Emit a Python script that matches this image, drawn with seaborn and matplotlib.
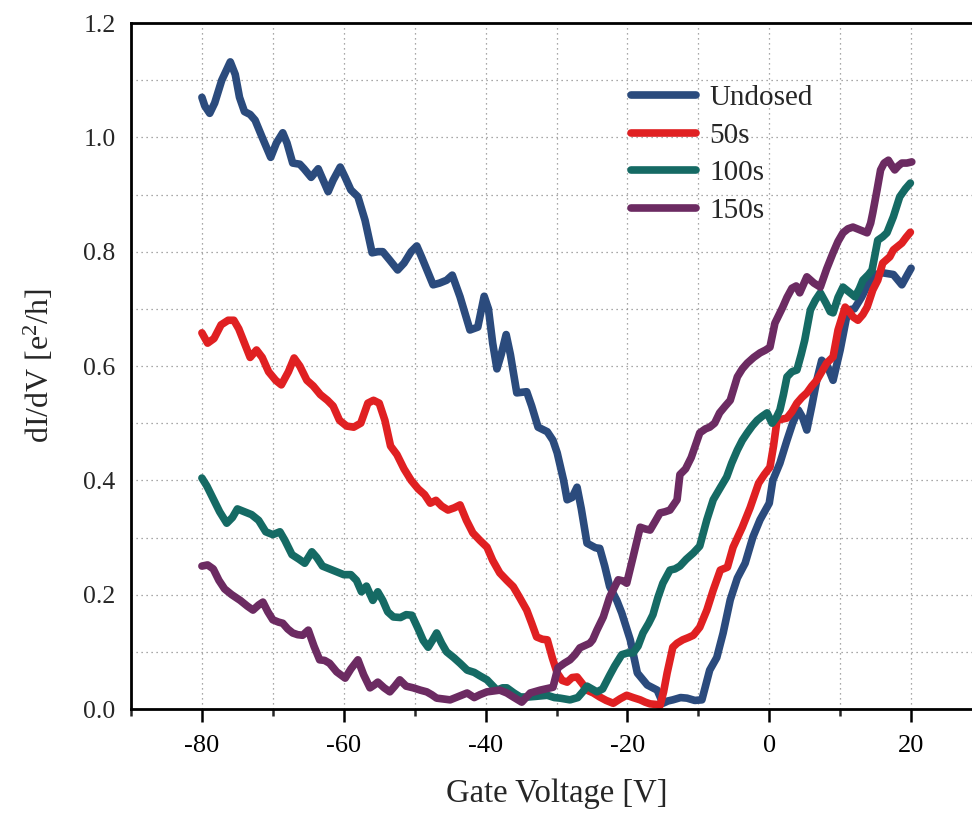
import numpy as np
import pandas as pd
import matplotlib
matplotlib.use("Agg")
import matplotlib.pyplot as plt
from matplotlib.ticker import MultipleLocator
import seaborn as sns

# Differential conductance vs. gate voltage for increasing dosing time
undosed_v = [-80, -79.6, -78.9, -78.2, -77.2, -76, -75.3, -74.7, -74, -73.2, -72.5, -71.5,
             -70.3, -69.5, -68.6, -68, -67.2, -66.2, -65.6, -64.6, -63.6, -62.9, -62.2,
             -61.5, -60.5, -59.8, -59, -58, -57, -56, -55.2, -54.5, -53.5, -52.4, -51.5,
             -50.5, -49.7, -49, -48, -47.4, -46.5, -45.5, -44.7, -43.6, -42.2, -41.1,
             -40.2, -39.6, -39, -38.4, -37.8, -37.1, -36.5, -35.6, -34.2, -33.5, -32.6,
             -31.3, -30.5, -29.9, -29, -28.5, -27.8, -27.1, -26.5, -25.7, -24.5, -23.9,
             -23.2, -22.5, -21.5, -20.8, -19.6, -18.6, -17.2, -15.8, -15, -14.3, -13.6,
             -12.5, -11.6, -10.5, -9.5, -8.4, -7.4, -6.5, -5.5, -4.5, -3.4, -2.3, -1.3,
             0, 0.5, 1.5, 2.5, 3.3, 4.1, 4.7, 5.3, 6, 6.7, 7.4, 8.2, 9, 10, 11.1, 12, 13,
             14.2, 15, 16, 17.5, 18.7, 19.5, 20]
undosed_g = [1.07, 1.055, 1.042, 1.06, 1.10, 1.132, 1.11, 1.07, 1.045, 1.04, 1.03, 1.0,
             0.965, 0.99, 1.008, 0.99, 0.955, 0.953, 0.945, 0.93, 0.945, 0.925, 0.905,
             0.925, 0.948, 0.93, 0.908, 0.896, 0.855, 0.798, 0.80, 0.80, 0.785, 0.768, 0.78,
             0.80, 0.81, 0.79, 0.76, 0.742, 0.745, 0.75, 0.759, 0.721, 0.663, 0.668,
             0.722, 0.70, 0.64, 0.595, 0.62, 0.655, 0.62, 0.553, 0.555, 0.53, 0.493,
             0.485, 0.47, 0.448, 0.40, 0.366, 0.37, 0.388, 0.35, 0.29, 0.282, 0.281,
             0.25, 0.214, 0.19, 0.168, 0.121, 0.063, 0.042, 0.033, 0.010, 0.014, 0.016,
             0.02, 0.019, 0.015, 0.016, 0.068, 0.09, 0.133, 0.191, 0.229, 0.255, 0.301, 0.331,
             0.36, 0.40, 0.43, 0.47, 0.50, 0.523, 0.51, 0.488, 0.53, 0.575, 0.61, 0.60, 0.575,
             0.628, 0.698, 0.70, 0.72, 0.75, 0.76, 0.763, 0.76, 0.742, 0.76, 0.771]

dose50_v = [-80, -79.2, -78.3, -77.3, -76.3, -75.5, -74.8, -74, -73.2, -72.3, -71.5, -70.6,
            -69.6, -68.8, -67.8, -67, -66.2, -65.2, -64.3, -63.3, -62.3, -61.5, -60.6,
            -59.6, -58.6, -57.6, -56.6, -55.8, -55, -54.2, -53.4, -52.5, -51.5, -50.5,
            -49.5, -48.6, -47.8, -47, -46.2, -45.3, -44.4, -43.6, -42.7, -41.8, -40.8,
            -39.8, -39, -38, -37, -36.1, -35.2, -34.2, -33.5, -32.8, -32, -31.3, -30.6,
            -29.9, -29.2, -28.5, -27.8, -27.1, -26.4, -25.7, -24.8, -23.9, -23, -22, -21,
            -20.1, -19.2, -18.2, -17.5, -16.8, -16, -15.4, -14.9, -14.4, -13.6, -13, -12.2,
            -11.4, -10.7, -9.8, -8.8, -7.9, -6.9, -5.9, -5.1, -3.8, -2.7, -1.5, -0.7, 0.1,
            0.6, 1.1, 1.8, 2.5, 3.2, 3.9, 4.6, 5.3, 6, 6.7, 7.4, 8.1, 9, 9.7, 10.7, 11.3,
            11.8, 12.5, 13.2, 13.8, 14.6, 15.3, 16, 17, 17.5, 18.2, 18.7, 19.3, 19.9]
dose50_g = [0.658, 0.64, 0.648, 0.672, 0.68, 0.68, 0.665, 0.64, 0.615, 0.628, 0.615, 0.59,
            0.575, 0.567, 0.59, 0.614, 0.60, 0.575, 0.565, 0.55, 0.54, 0.53, 0.505,
            0.495, 0.493, 0.50, 0.535, 0.54, 0.535, 0.505, 0.46, 0.445, 0.42, 0.40,
            0.385, 0.375, 0.36, 0.365, 0.355, 0.348, 0.352, 0.357, 0.33, 0.308, 0.295,
            0.283, 0.26, 0.238, 0.225, 0.214, 0.195, 0.173, 0.15, 0.126, 0.122, 0.121, 0.09,
            0.063, 0.05, 0.047, 0.055, 0.056, 0.045, 0.033, 0.028, 0.021, 0.015, 0.010, 0.018,
            0.024, 0.02, 0.016, 0.012, 0.009, 0.008, 0.006, 0.03, 0.063, 0.108, 0.115, 0.121,
            0.125, 0.129, 0.143, 0.173, 0.208, 0.243, 0.248, 0.283, 0.318, 0.352, 0.395, 0.41, 0.423,
            0.46, 0.505, 0.507, 0.509, 0.52, 0.535, 0.545, 0.553, 0.565, 0.575, 0.59, 0.605, 0.616, 0.663, 0.703, 0.695,
            0.686, 0.68, 0.69, 0.703, 0.733, 0.75, 0.78, 0.791, 0.803, 0.81, 0.815, 0.825, 0.834]

dose100_v = [-80, -79.3, -78.5, -77.5, -76.5, -75.7, -75, -74, -73, -72, -71, -70, -69,
             -68.3, -67.3, -66.3, -65.5, -64.5, -63.8, -63, -62, -61, -60, -59, -58.2,
             -57.5, -56.8, -55.9, -55.2, -54.5, -53.8, -53, -52, -51.2, -50.4, -49.5,
             -48.8, -48.1, -47.5, -46.9, -46.2, -45.5, -44.5, -43.6, -42.6, -41.6, -40.8,
             -39.8, -38.4, -37.6, -37, -36, -35.1, -34, -33, -31.3, -30.3, -29.5, -28.1,
             -27, -26.3, -25.7, -25, -24.3, -23.5, -22.5, -21.8, -20.8, -20, -19.2, -18.5,
             -17.8, -17, -16.4, -15.7, -15, -14, -13.3, -12.6, -11.7, -10.7, -9.8, -8.8,
             -7.9, -7, -6, -5.3, -4.5, -3.8, -3.1, -2.4, -1.7, -1, -0.3, 0.4, 1, 1.5, 2,
             2.5, 3.2, 3.9, 4.5, 5, 5.8, 6.5, 7.2, 8, 8.6, 9, 9.7, 10.4, 11.2, 12.1, 12.7,
             13.2, 14, 14.5, 15.3, 16, 16.6, 17.5, 18.4, 19.2, 19.9]
dose100_g = [0.404, 0.39, 0.37, 0.345, 0.325, 0.335, 0.35, 0.345, 0.34, 0.33, 0.31, 0.305, 0.31,
             0.295, 0.27, 0.262, 0.255, 0.275, 0.265, 0.25, 0.245, 0.24, 0.235, 0.235, 0.225,
             0.205, 0.215, 0.19, 0.205, 0.19, 0.17, 0.161, 0.16, 0.165, 0.164, 0.14,
             0.12, 0.108, 0.12, 0.133, 0.115, 0.10, 0.09, 0.08, 0.068, 0.064, 0.058,
             0.051, 0.033, 0.037, 0.037, 0.028, 0.021, 0.021, 0.022, 0.024, 0.02, 0.019, 0.016,
             0.02, 0.03, 0.04, 0.035, 0.03, 0.035, 0.059, 0.075, 0.095, 0.098, 0.098, 0.11,
             0.133, 0.15, 0.165, 0.195, 0.22, 0.243, 0.245, 0.25, 0.262, 0.273, 0.285, 0.331,
             0.366, 0.385, 0.406, 0.43, 0.453, 0.47, 0.483, 0.495, 0.505, 0.512, 0.518, 0.50, 0.51, 0.523, 0.55,
             0.581, 0.59, 0.593, 0.62, 0.645, 0.698, 0.715, 0.728, 0.71, 0.695, 0.693, 0.72, 0.738, 0.73, 0.721, 0.735,
             0.75, 0.76, 0.768, 0.82, 0.826, 0.833, 0.861, 0.896, 0.91, 0.92]

dose150_v = [-80, -79.2, -78.4, -77.6, -76.8, -75.8, -74.6, -73.6, -72.8, -72, -71.4, -70.7,
             -70, -69.2, -68.6, -67.9, -67.2, -66.5, -65.8, -65, -64.2, -63.4, -62.7, -62,
             -61, -59.8, -59, -58, -57.2, -56.3, -55.7, -55.2, -54.3, -53.5, -52.8, -52.1,
             -51.2, -50.2, -49.2, -48.3, -47.6, -46.9, -45, -43.8, -42.6, -41.6, -40.8,
             -39.8, -38, -37, -36.1, -34.9, -34.3, -33.7, -32.3, -30.5, -29.8, -28.9, -28.1,
             -27.4, -26.7, -25.3, -24.9, -24.3, -23.4, -22.5, -21.3, -20.6, -20.1, -19.2,
             -18.2, -17.5, -16.8, -16, -15.4, -14.7, -14, -13, -12.6, -11.8, -11, -9.8, -9,
             -8.4, -7.7, -7, -6.2, -5.5, -4.5, -3.8, -3.1, -2.2, -1.3, -0.5, 0.1, 0.8, 1.9,
             2.5, 3.2, 3.8, 4.3, 5.3, 6.3, 7.2, 8.1, 9, 9.7, 10.4, 11.1, 11.8, 12.8, 13.8,
             14.3, 14.6, 15.2, 15.7, 16.2, 16.8, 17.3, 17.7, 18.2, 18.7, 19.4, 20.1]
dose150_g = [0.25, 0.252, 0.245, 0.225, 0.21, 0.20, 0.19, 0.18, 0.173, 0.182, 0.187, 0.17,
             0.156, 0.152, 0.15, 0.14, 0.133, 0.13, 0.129, 0.138, 0.11, 0.086, 0.085, 0.08,
             0.065, 0.054, 0.07, 0.086, 0.06, 0.037, 0.042, 0.047, 0.037, 0.03, 0.04, 0.051,
             0.04, 0.037, 0.033, 0.03, 0.025, 0.019, 0.016, 0.022, 0.028, 0.02, 0.025,
             0.03, 0.033, 0.028, 0.021, 0.012, 0.02, 0.028, 0.033, 0.038, 0.072, 0.08, 0.086,
             0.095, 0.107, 0.115, 0.121, 0.138, 0.161, 0.196, 0.226, 0.224, 0.22, 0.266,
             0.318, 0.315, 0.313, 0.33, 0.343, 0.345, 0.348, 0.366, 0.41, 0.42, 0.44, 0.483, 0.49,
             0.493, 0.50, 0.518, 0.53, 0.54, 0.581, 0.595, 0.605, 0.615, 0.623, 0.628, 0.633, 0.675, 0.703,
             0.72, 0.736, 0.74, 0.728, 0.756, 0.745, 0.738, 0.77, 0.798, 0.818, 0.833, 0.84, 0.843, 0.838, 0.833,
             0.85, 0.868, 0.908, 0.943, 0.955, 0.96, 0.95, 0.943, 0.95, 0.955, 0.955, 0.957]

series_names = ["Undosed", "50s", "100s", "150s"]
series_colors = ["#2b4b7d", "#e02022", "#156a64", "#6c2b62"]

frames = []
for name, v, g in zip(series_names,
                      [undosed_v, dose50_v, dose100_v, dose150_v],
                      [undosed_g, dose50_g, dose100_g, dose150_g]):
    frames.append(pd.DataFrame({"V": v, "G": g, "series": name}))
df = pd.concat(frames, ignore_index=True)

sns.set_theme(style="white")
plt.rcParams["font.family"] = ["Liberation Serif", "DejaVu Serif"]
plt.rcParams["mathtext.fontset"] = "custom"
plt.rcParams["mathtext.rm"] = "Liberation Serif"
plt.rcParams["mathtext.it"] = "Liberation Serif:italic"

fig = plt.figure(figsize=(9.72, 8.13), dpi=100)
ax = fig.add_axes([131 / 972, 1 - 709 / 813, (982 - 131) / 972, (709 - 23) / 813])

sns.lineplot(data=df, x="V", y="G", hue="series", hue_order=series_names,
             palette=series_colors, sort=False, estimator=None, lw=5.5,
             solid_capstyle="round", solid_joinstyle="round", ax=ax)

ax.set_xlim(-90, 30)
ax.set_ylim(0, 1.2)
ax.xaxis.set_minor_locator(MultipleLocator(10))
ax.yaxis.set_minor_locator(MultipleLocator(0.1))
yt = np.arange(0, 1.21, 0.2)
ax.set_yticks(yt)
ax.set_yticklabels([f"{t:.1f}" for t in yt])
xt = list(range(-80, 21, 20))
ax.set_xticks(xt)
ax.set_xticklabels([str(t) for t in xt])

ax.grid(True, which="both", color="#8c8c8c", linestyle=(0, (1, 3)), linewidth=0.9)
ax.set_axisbelow(True)
ax.tick_params(axis="x", which="major", direction="out", length=9.5, width=1.8,
               labelsize=19, pad=9, bottom=True, colors="black")
ax.tick_params(axis="x", which="minor", direction="out", length=5, width=1.8, bottom=True)
ax.tick_params(axis="y", which="both", length=0, labelsize=18.5, pad=11)
for side in ["left", "bottom", "top", "right"]:
    ax.spines[side].set_visible(True)
    ax.spines[side].set_color("black")
    ax.spines[side].set_linewidth(2.0)

ax.set_xlabel("Gate Voltage [V]", fontsize=23.5, labelpad=16)
ax.set_ylabel(r"dI/dV [e$^{2}$/h]", fontsize=23, labelpad=20)

leg = ax.legend(loc="upper left", bbox_to_anchor=(0.570, 0.931), frameon=False,
                borderpad=0, fontsize=21, handlelength=2.25, handletextpad=0.45,
                labelspacing=0.38)
for line in leg.get_lines():
    line.set_linewidth(5.5)
    line.set_solid_capstyle("round")

fig.savefig("out.png", dpi=100)
